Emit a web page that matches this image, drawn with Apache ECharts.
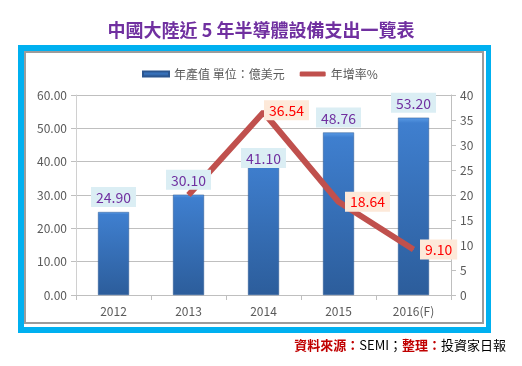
<!DOCTYPE html>
<html><head><meta charset="utf-8">
<script src="https://cdn.jsdelivr.net/npm/echarts@6/dist/echarts.min.js"></script>
<style>html,body{margin:0;padding:0;background:#fff}#c{width:522px;height:366px}</style>
</head><body><div id="c"></div>
<script>
const categories = ['2012', '2013', '2014', '2015', '2016(F)'];
const outputValues = [24.90, 30.10, 41.10, 48.76, 53.20];
const growthRates = [null, 20.0, 36.54, 18.64, 9.10];
const growthLabels = [null, null, '36.54', '18.64', '9.10'];
const barName = '年產值 單位：億美元';
const lineName = '年增率%';
const titleText = '中國大陸近 5 年半導體設備支出一覽表';

const FONT = '"Noto Sans CJK TC", "Noto Sans", sans-serif';
const chart = echarts.init(document.getElementById('c'));

const barLabelData = outputValues.map((v, i) => {
  const d = { value: v };
  if (i === 2) d.label = { offset: [0, 15] };
  return d;
});
const lineData = growthRates.map((v, i) => {
  const d = { value: v };
  if (i === 2) d.label = { show: true, distance: 0, offset: [0, -2] };
  else if (growthLabels[i]) d.label = { show: true };
  else d.label = { show: false };
  return d;
});

chart.setOption({
  animation: false,
  textStyle: { fontFamily: FONT },
  title: {
    text: titleText, left: 'center', top: 16,
    textStyle: { color: '#7030A0', fontSize: 18, fontWeight: 'bold', fontFamily: FONT }
  },
  graphic: [
    { type: 'rect', z: -10, shape: { x: 18, y: 45, width: 473, height: 288 }, style: { fill: '#00B0F0' } },
    { type: 'rect', z: -9, shape: { x: 24, y: 51, width: 462, height: 276 }, style: { fill: '#ffffff' } },
    { type: 'rect', z: -8, shape: { x: 25, y: 52, width: 458, height: 271 }, style: { fill: 'none', stroke: '#9C9C9C', lineWidth: 2 } },
    {
      type: 'text', right: 16, top: 339,
      style: {
        text: '{r|資料來源：}{k|SEMI；}{r|整理：}{k|投資家日報}',
        font: '13px ' + FONT,
        rich: {
          r: { fill: '#C00000', fontWeight: 'bold', fontSize: 13, fontFamily: FONT },
          k: { fill: '#000000', fontSize: 13, fontFamily: FONT }
        }
      }
    }
  ],
  legend: {
    top: 63, left: 137, itemGap: 15, itemWidth: 26, itemHeight: 5,
    textStyle: { color: '#595959', fontSize: 12, fontFamily: FONT },
    data: [{ name: barName, icon: 'rect' }, { name: lineName, icon: 'roundRect' }]
  },
  grid: { left: 76, right: 71, top: 95, bottom: 71 },
  xAxis: {
    type: 'category', data: categories,
    axisLine: { lineStyle: { color: '#BFBFBF' } },
    axisTick: { show: true, length: 5, lineStyle: { color: '#BFBFBF' } },
    axisLabel: { color: '#595959', fontSize: 12, margin: 10 }
  },
  yAxis: [
    {
      type: 'value', min: 0, max: 60, interval: 10,
      axisLine: { show: true, lineStyle: { color: '#D0D0D0' } },
      axisTick: { show: true, length: 5, lineStyle: { color: '#BFBFBF' } },
      axisLabel: { color: '#595959', fontSize: 12, margin: 9, formatter: v => v.toFixed(2) },
      splitLine: { lineStyle: { color: '#BFBFBF' } }
    },
    {
      type: 'value', min: 0, max: 40, interval: 5, position: 'right',
      axisLine: { show: true, lineStyle: { color: '#BFBFBF' } },
      axisTick: { show: true, length: 5, lineStyle: { color: '#BFBFBF' } },
      axisLabel: { color: '#595959', fontSize: 12, margin: 9 },
      splitLine: { show: false }
    }
  ],
  series: [
    {
      name: barName, type: 'bar', data: outputValues, barWidth: 31, yAxisIndex: 0, z: 2,
      itemStyle: {
        color: new echarts.graphic.LinearGradient(0, 0, 0, 1, [
          { offset: 0, color: '#5A9BE6' }, { offset: 0.03, color: '#3F7FCF' },
          { offset: 1, color: '#2C5D9B' }
        ]),
        borderColor: '#2B5690', borderWidth: 0.5
      }
    },
    {
      name: lineName, type: 'line', data: lineData, yAxisIndex: 1,
      showSymbol: true, symbol: 'circle', symbolSize: 1, connectNulls: false,
      lineStyle: { color: '#C0504D', width: 6 },
      itemStyle: { color: '#C0504D' },
      label: {
        show: true, position: 'right', distance: 6,
        color: '#FF0000', fontSize: 14, fontFamily: FONT,
        backgroundColor: '#FDE9D9', padding: [4, 5, 2, 5],
        formatter: p => p.value.toFixed(2)
      },
      z: 3
    },
    {
      name: 'barLabels', type: 'bar', data: barLabelData, barWidth: 31, barGap: '-100%', yAxisIndex: 0, z: 5,
      itemStyle: { color: 'rgba(0,0,0,0)' },
      emphasis: { disabled: true },
      label: {
        show: true, position: 'top', distance: 5,
        color: '#7030A0', fontSize: 14, fontFamily: FONT,
        backgroundColor: '#DBEEF4', padding: [4, 5, 2, 5],
        formatter: p => p.value.toFixed(2)
      }
    }
  ]
});
</script></body></html>
